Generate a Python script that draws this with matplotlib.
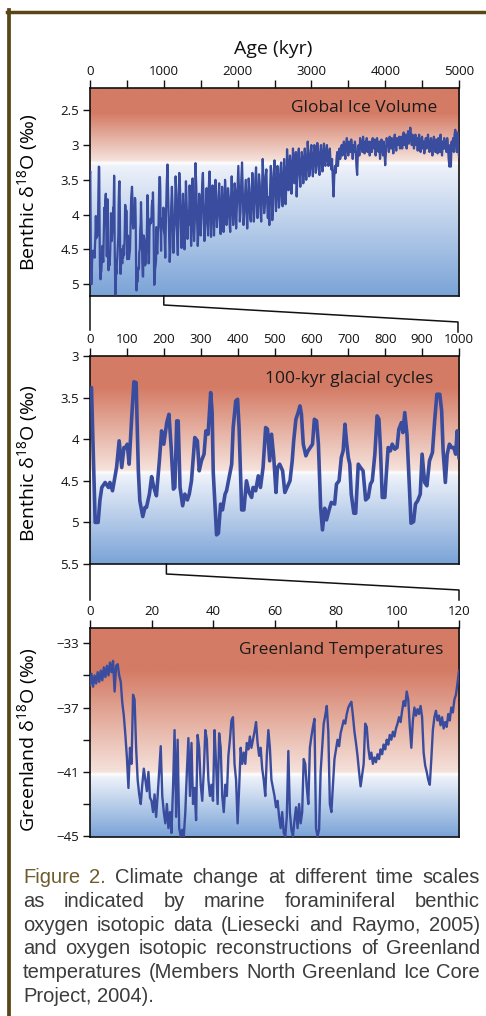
import numpy as np
import matplotlib.pyplot as plt
from matplotlib.lines import Line2D

plt.rcParams['font.family'] = ['Open Sans', 'DejaVu Sans']
plt.rcParams['mathtext.fontset'] = 'custom'
plt.rcParams['mathtext.rm'] = 'Open Sans'
plt.rcParams['mathtext.default'] = 'regular'

# ---- data ----
# LR04 benthic stack, last 1000 kyr (middle panel, also start of top panel)
recent_age = [0, 4, 14, 22, 27, 32, 41, 50, 54, 61,
              72, 79, 86, 92, 97, 101, 106, 113, 119, 125,
              131, 135, 143, 149, 153, 161, 167, 173, 180, 188,
              194, 200, 208, 214, 220, 226, 230, 235, 239, 244,
              251, 257, 264, 269, 275, 280, 284, 291, 296, 302,
              309, 314, 320, 327, 331, 334, 338, 343, 348, 354,
              359, 366, 370, 377, 384, 388, 395, 400, 404, 411,
              417, 424, 431, 438, 442, 449, 456, 462, 469, 476,
              481, 487, 492, 498, 504, 508, 514, 522, 528, 534,
              542, 548, 552, 558, 564, 569, 573, 578, 585, 591,
              597, 603, 608, 614, 619, 625, 630, 636, 641, 648,
              654, 663, 668, 675, 681, 686, 691, 695, 700, 704,
              708, 715, 720, 727, 733, 740, 747, 754, 760, 765,
              772, 778, 783, 787, 792, 799, 803, 808, 814, 819,
              826, 832, 837, 844, 848, 853, 859, 864, 870, 877,
              882, 888, 895, 900, 907, 913, 920, 928, 934, 940,
              948, 953, 957, 963, 968, 974, 980, 986, 991, 995,
              1000]
recent_d18o = [3.40, 3.38, 5.00, 5.00, 4.73, 4.58, 4.52, 4.58, 4.52, 4.62,
               4.34, 4.02, 4.34, 4.10, 4.10, 4.06, 4.30, 3.74, 3.31, 3.32,
               4.38, 4.74, 4.93, 4.82, 4.82, 4.66, 4.45, 4.58, 4.68, 4.26,
               3.90, 4.06, 3.80, 3.70, 4.10, 4.60, 4.58, 3.78, 3.78, 4.58,
               4.80, 4.66, 4.73, 4.66, 4.50, 4.22, 3.98, 4.02, 4.38, 4.26,
               4.18, 3.90, 3.94, 3.44, 3.68, 4.40, 4.73, 5.15, 5.13, 4.78,
               4.85, 4.66, 4.62, 4.46, 4.30, 3.86, 3.54, 3.52, 3.86, 4.85,
               4.85, 4.50, 4.64, 4.70, 4.58, 4.62, 4.44, 4.58, 4.34, 3.86,
               3.88, 4.26, 3.94, 4.22, 4.64, 4.34, 4.30, 4.38, 4.64, 4.58,
               4.50, 4.26, 4.02, 3.76, 3.68, 3.60, 3.70, 4.06, 4.20, 4.14,
               4.10, 4.06, 3.76, 3.78, 4.06, 4.82, 5.09, 4.83, 4.97, 4.85,
               4.76, 4.78, 4.54, 4.50, 4.22, 4.14, 3.82, 4.02, 4.22, 4.30,
               4.66, 4.89, 4.89, 4.30, 4.34, 4.38, 4.73, 4.70, 4.54, 4.50,
               4.18, 3.72, 3.76, 4.10, 4.70, 4.70, 4.42, 4.10, 4.14, 4.06,
               4.12, 4.10, 3.88, 3.80, 3.92, 3.68, 3.94, 4.42, 5.01, 4.99,
               4.78, 4.74, 4.66, 4.18, 4.52, 4.56, 4.26, 4.16, 3.78, 3.46,
               3.46, 3.66, 4.14, 4.52, 4.18, 4.06, 4.10, 4.10, 4.18, 3.90,
               4.22]

# LR04 benthic stack, 1010-5000 kyr in 10 kyr steps (top panel)
old_age = np.arange(1010, 5001, 10)
old_d18o = [
    4.3, 4.62, 4.0, 3.55, 3.28, 3.75, 4.2, 4.68, 4.45, 3.9, 3.6, 3.95, 4.55, 4.25, 4.1, 3.45, 3.7, 4.3, 4.58, 3.85,
    3.4, 3.62, 4.15, 4.48, 4.05, 3.7, 4.2, 4.5, 4.0, 3.52, 3.85, 4.35, 3.95, 4.15, 3.58, 3.9, 4.45, 4.1, 3.48, 4.0,
    4.38, 4.1, 3.26, 3.6, 4.05, 4.45, 4.2, 3.7, 3.95, 4.3, 4.05, 3.55, 3.4, 3.85, 4.38, 4.15, 3.9, 3.62, 4.1, 4.3,
    3.6, 3.38, 3.95, 4.32, 4.0, 3.58, 3.8, 4.3, 3.95, 3.5, 3.72, 4.18, 4.0, 3.85, 3.55, 4.05, 4.28, 3.9, 3.6, 3.85,
    4.25, 3.95, 3.5, 3.7, 4.15, 4.0, 3.62, 3.75, 4.1, 4.25, 3.8, 3.45, 3.8, 4.15, 3.98, 3.55, 3.68, 4.2, 3.9, 3.6,
    3.3, 3.72, 4.1, 3.95, 3.5, 3.25, 3.65, 4.15, 4.0, 3.75, 3.5, 3.85, 4.2, 3.9, 3.48, 3.62, 4.05, 4.1, 3.78, 3.4,
    3.7, 4.1, 3.9, 3.5, 3.32, 3.78, 4.05, 3.8, 3.42, 3.55, 3.95, 4.1, 3.7, 3.2, 3.5, 3.98, 3.85, 3.45, 3.35, 3.8,
    4.05, 3.75, 4.15, 3.65, 3.3, 3.5, 4.08, 3.88, 3.4, 3.22, 3.62, 3.95, 3.7, 3.3, 3.45, 3.9, 3.78, 3.35, 3.25, 3.7,
    3.88, 3.5, 3.2, 3.45, 3.85, 3.6, 3.06, 3.25, 3.65, 3.5, 3.15, 3.3, 3.7, 3.45, 3.05, 3.2, 3.55, 3.35, 3.1, 3.74,
    3.45, 3.15, 3.05, 3.4, 3.6, 3.3, 3.1, 3.2, 3.55, 3.35, 3.05, 3.25, 3.5, 3.3, 2.95, 3.15, 3.45, 3.4, 3.1, 3.0,
    3.3, 3.45, 3.2, 3.0, 3.15, 3.4, 3.25, 2.97, 3.1, 3.35, 3.43, 3.1, 3.0, 3.2, 3.38, 3.15, 2.98, 3.25, 3.3, 3.1,
    3.0, 3.2, 3.3, 3.15, 3.05, 3.25, 3.35, 3.2, 3.5, 3.74, 3.45, 3.3, 3.4, 3.2, 3.1, 3.3, 3.15, 3.05, 3.2, 3.1,
    3.0, 3.15, 3.05, 2.95, 3.1, 3.2, 3.0, 2.9, 3.05, 3.15, 2.95, 3.0, 3.1, 2.92, 3.05, 3.2, 3.0, 3.1, 2.95, 3.05,
    3.3, 3.43, 3.1, 3.0, 3.15, 2.9, 3.05, 2.95, 3.1, 2.88, 3.0, 3.12, 2.95, 3.05, 2.9, 3.1, 3.0, 2.95, 3.15, 3.05,
    2.95, 3.1, 2.9, 3.0, 3.05, 2.92, 3.15, 3.0, 2.9, 3.05, 3.1, 2.95, 3.2, 3.0, 2.92, 3.05, 3.15, 2.95, 3.1, 3.29,
    3.1, 2.9, 3.0, 2.95, 3.1, 2.88, 3.0, 3.05, 2.9, 2.98, 3.12, 2.92, 2.85, 3.0, 3.08, 2.9, 3.0, 2.95, 2.88, 3.05,
    2.95, 2.88, 3.05, 2.9, 2.82, 3.0, 2.95, 2.85, 3.05, 2.92, 2.8, 2.98, 2.9, 2.75, 2.88, 3.0, 2.85, 2.95, 3.05, 2.9,
    2.85, 3.0, 2.9, 3.08, 2.95, 2.85, 3.0, 3.1, 2.92, 2.88, 3.05, 2.95, 3.12, 3.0, 2.9, 3.05, 2.95, 2.85, 3.0, 3.1,
    3.0, 2.9, 3.05, 3.15, 2.95, 2.88, 3.05, 3.1, 2.92, 3.0, 3.12, 2.9, 2.98, 3.1, 2.85, 3.0, 3.15, 2.95, 3.05, 2.9,
    3.05, 2.95, 3.1, 2.9, 3.0, 3.2, 3.31, 3.0, 3.31, 2.95, 3.05, 2.9, 3.1, 2.85, 2.78, 2.95, 3.1, 2.82, 3.0, 3.17,
]

# NGRIP Greenland d18O, 0-120 kyr in 0.5 kyr steps (bottom panel)
ngrip_age = np.arange(0, 120.01, 0.5)
ngrip_d18o = [
    -35.6, -34.9, -35.7, -35.0, -35.5, -34.8, -35.4, -34.7, -35.3, -34.5, -35.1, -34.4, -35.0, -34.2, -34.8, -34.1, -36.0, -34.4, -34.3, -35.0,
    -35.4, -36.7, -37.5, -38.7, -40.1, -42.0, -39.5, -40.5, -36.2, -36.5, -39.5, -41.5, -42.4, -43.0, -41.8, -40.8, -41.5, -42.2, -41.0, -42.6,
    -42.8, -43.5, -42.4, -43.8, -42.5, -41.0, -39.4, -42.5, -43.5, -44.2, -43.0, -44.5, -43.5, -44.8, -42.0, -38.4, -43.8, -39.0, -44.5, -45.0,
    -44.6, -45.0, -43.5, -41.0, -38.9, -42.5, -39.2, -43.0, -42.0, -44.0, -38.7, -39.5, -41.8, -42.8, -41.0, -38.4, -39.0, -41.5, -42.5, -41.8,
    -42.8, -38.4, -40.5, -43.0, -38.6, -39.5, -42.5, -43.5, -41.8, -42.5, -40.0, -39.0, -37.8, -37.6, -40.5, -41.5, -44.2, -42.0, -39.5, -40.5,
    -39.8, -40.5, -39.2, -39.6, -38.8, -39.5, -39.0, -38.5, -37.9, -39.2, -40.0, -39.5, -40.8, -41.5, -42.5, -40.0, -38.4, -39.5, -41.5, -42.0,
    -42.5, -43.2, -42.8, -43.8, -44.5, -43.5, -44.8, -45.0, -43.8, -39.7, -43.5, -44.6, -45.0, -44.0, -43.2, -44.5, -43.0, -44.2, -43.5, -40.2,
    -40.5, -42.0, -43.0, -39.5, -38.8, -38.2, -37.7, -44.5, -45.0, -44.6, -41.0, -39.5, -38.0, -37.5, -36.9, -38.5, -43.0, -43.5, -41.8, -40.2,
    -39.6, -39.0, -39.4, -38.6, -38.2, -37.8, -38.0, -37.4, -37.0, -36.8, -36.64, -37.5, -38.5, -39.2, -40.0, -41.0, -41.9, -41.2, -40.5, -38.0,
    -38.2, -39.5, -40.2, -39.8, -40.5, -40.1, -40.4, -39.9, -40.2, -39.6, -39.9, -39.3, -39.6, -39.0, -39.3, -38.7, -39.0, -38.5, -38.8, -38.3,
    -38.0, -37.6, -37.9, -37.2, -36.6, -36.9, -36.0, -36.5, -38.2, -39.5, -37.8, -37.0, -37.5, -37.1, -37.4, -36.9, -37.6, -39.8, -40.6, -41.0,
    -41.5, -41.8, -40.2, -38.4, -37.6, -37.2, -37.8, -37.5, -38.1, -37.6, -38.3, -37.9, -38.2, -37.4, -37.8, -37.0, -37.3, -36.5, -36.2, -35.5,
    -34.7,
]

panel_titles = ['Global Ice Volume', '100-kyr glacial cycles', 'Greenland Temperatures']
caption_lines = [
    'Figure 2. Climate change at different time scales',
    'as indicated by marine foraminiferal benthic',
    'oxygen isotopic data (Liesecki and Raymo, 2005)',
    'and oxygen isotopic reconstructions of Greenland',
    'temperatures (Members North Greenland Ice Core',
    'Project, 2004).',
]

# ---- layout (pixels of a 486x1016 canvas) ----
W, H = 486, 1016
LINE = '#3a4c9e'
RED = np.array([212, 123, 101]) / 255
BLUE = np.array([122, 163, 215]) / 255
WHITE = np.array([1.0, 1.0, 1.0])

fig = plt.figure(figsize=(W / 100, H / 100), dpi=100)


def add_px_axes(left, top, right, bottom):
    return fig.add_axes([left / W, 1 - bottom / H, (right - left) / W, (bottom - top) / H])


def gradient(ax, solid_red, white_at):
    # vertical red -> white -> blue band, fractions measured from the top
    n = 400
    f = np.linspace(0, 1, n)
    stops = [0, solid_red, white_at - 0.012, white_at, white_at + 0.012, 1]
    cols = [RED, RED, np.array([245, 226, 219]) / 255, WHITE,
            np.array([238, 242, 250]) / 255, BLUE]
    img = np.zeros((n, 1, 3))
    for c in range(3):
        img[:, 0, c] = np.interp(f, stops, [col[c] for col in cols])
    ax.imshow(img, extent=[0, 1, 0, 1], transform=ax.transAxes,
              aspect='auto', zorder=0, interpolation='bilinear')


def style(ax, fs=9.5):
    ax.xaxis.tick_top()
    ax.tick_params(axis='x', which='both', direction='out', length=6, width=1,
                   pad=1, labelsize=fs, colors='#111111')
    ax.tick_params(axis='y', which='both', direction='out', length=5, width=1,
                   pad=3, labelsize=fs, colors='#111111')
    for s in ax.spines.values():
        s.set_linewidth(1.2)
        s.set_color('#111111')


# top panel
ax1 = add_px_axes(90, 88, 459, 296)
gradient(ax1, 0.12, 0.36)
ax1.plot(recent_age + list(old_age), recent_d18o + old_d18o, color=LINE, lw=1.6, zorder=3)
ax1.set_xlim(0, 5000)
ax1.set_ylim(5.17, 2.18)
ax1.set_xticks([0, 1000, 2000, 3000, 4000, 5000])
ax1.set_xticks([500, 1500, 2500, 3500, 4500], minor=True)
ax1.set_yticks([2.5, 3, 3.5, 4, 4.5, 5])
ax1.set_yticklabels(['2.5', '3', '3.5', '4', '4.5', '5'])
style(ax1)
ax1.set_ylabel('Benthic δ$^{18}$O (‰)', fontsize=14)
ax1.yaxis.set_label_coords(-0.135, 0.5)
ax1.text(0.94, 0.904, panel_titles[0], transform=ax1.transAxes, ha='right',
         va='center', fontsize=12.5, color='#1a1a1a', zorder=4)

# middle panel
ax2 = add_px_axes(90, 356, 459, 564)
gradient(ax2, 0.15, 0.56)
ax2.plot(recent_age, recent_d18o, color=LINE, lw=2.6, zorder=3)
ax2.set_xlim(0, 1000)
ax2.set_ylim(5.5, 3.0)
ax2.set_xticks(range(0, 1001, 100))
ax2.set_yticks([3, 3.5, 4, 4.5, 5, 5.5])
ax2.set_yticklabels(['3', '3.5', '4', '4.5', '5', '5.5'])
style(ax2)
ax2.set_ylabel('Benthic δ$^{18}$O (‰)', fontsize=14)
ax2.yaxis.set_label_coords(-0.135, 0.486)
ax2.text(0.9295, 0.889, panel_titles[1], transform=ax2.transAxes, ha='right',
         va='center', fontsize=12.5, color='#1a1a1a', zorder=4)

# bottom panel
ax3 = add_px_axes(90, 628, 459, 837)
gradient(ax3, 0.2, 0.70)
ax3.plot(ngrip_age, ngrip_d18o, color=LINE, lw=1.7, zorder=3)
ax3.set_xlim(0, 120)
ax3.set_ylim(-45.05, -32.05)
ax3.set_xticks(range(0, 121, 20))
ax3.set_yticks([-33, -37, -41, -45])
ax3.set_yticks([-35, -39, -43], minor=True)
style(ax3)
ax3.set_ylabel('Greenland δ$^{18}$O (‰)', fontsize=14)
ax3.yaxis.set_label_coords(-0.135, 0.464)
ax3.text(0.9566, 0.895, panel_titles[2], transform=ax3.transAxes, ha='right',
         va='center', fontsize=12.5, color='#1a1a1a', zorder=4)

fig.text(273 / W, 1 - 49 / H, 'Age (kyr)', ha='center', va='center', fontsize=14,
         color='#111111')


# zoom brackets and axis extensions
def px_x(ax, xval):
    return ax.transData.transform((xval, 0))[0] * W / fig.bbox.width


def seg(points):
    xs = [p[0] / W for p in points]
    ys = [1 - p[1] / H for p in points]
    fig.add_artist(Line2D(xs, ys, transform=fig.transFigure, color='#111111', lw=1.1))


xa = px_x(ax1, 1000)
seg([(xa, 296), (xa, 305), (458, 322), (458, 332)])
seg([(90, 296), (90, 330)])
xb = px_x(ax2, 207)
seg([(xb, 564), (xb, 574), (459, 590), (459, 600)])
seg([(90, 564), (90, 600)])

# sidebar frame
fig.add_artist(Line2D([7.3 / W, 1], [1 - 11.7 / H] * 2, transform=fig.transFigure,
                      color='#5a4516', lw=2.5))
fig.add_artist(Line2D([9.2 / W] * 2, [1 - 10 / H, 0], transform=fig.transFigure,
                      color='#5a4516', lw=2.7))

# justified caption
renderer = fig.canvas.get_renderer()
x0, x1 = 23, 480
base0, step = 883.3, 23.7
cap_fs = 14.5
for i, line in enumerate(caption_lines):
    words = line.split()
    texts = []
    for j, w in enumerate(words):
        col = '#6e5c2c' if (i == 0 and j < 2) else '#3c3c3c'
        texts.append(fig.text(0, 1 - (base0 + i * step) / H, w, fontsize=cap_fs,
                              family=['Liberation Sans', 'DejaVu Sans'],
                              color=col, va='baseline', ha='left'))
    widths = [t.get_window_extent(renderer).width * W / fig.bbox.width for t in texts]
    if i < len(caption_lines) - 1:
        gap = (x1 - x0 - sum(widths)) / (len(words) - 1)
    else:
        gap = 0.28 * cap_fs * 100 / 72
    x = x0
    for t, w in zip(texts, widths):
        t.set_x(x / W)
        x += w + gap

fig.savefig('out.png', dpi=100)
